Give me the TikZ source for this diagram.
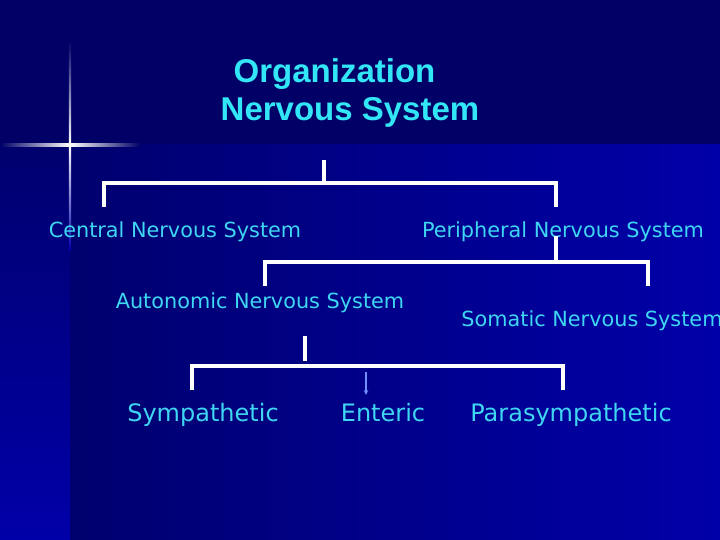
\documentclass[tikz,border=0pt]{standalone}
\usepackage{fontspec}
\setmainfont{DejaVu Sans}
\newfontfamily\titlefont{Liberation Sans}
\usetikzlibrary{arrows.meta, positioning, calc}
\definecolor{cnavy}{HTML}{000066}
\definecolor{cdeep}{HTML}{00006E}
\definecolor{cbright}{HTML}{0000A8}
\definecolor{ccyan}{HTML}{3FD6F2}
\definecolor{ctitle}{HTML}{33E6F6}
\definecolor{cthin}{HTML}{7090FF}
\tikzset{
  every picture/.style={x=1pt, y=-1pt},
  label/.style={text=ccyan, inner sep=0pt, anchor=base, font=\fontsize{20.8}{24}\selectfont},
  leaf/.style={label, font=\fontsize{24}{28}\selectfont},
  title/.style={text=ctitle, inner sep=0pt, anchor=base, font=\titlefont\bfseries\fontsize{33}{38}\selectfont},
  bracket/.style={draw=white, line width=4pt},
  thinarrow/.style={draw=cthin, line width=1.3pt, -{Stealth[length=5pt, width=4.5pt]}},
}

\begin{document}
\begin{tikzpicture}
  \clip (0,0) rectangle (720,540);
  % background
  \fill[cnavy] (0,0) rectangle (720,540);
  \shade[left color=cdeep, right color=cbright] (70,145) rectangle (720,540);
  \shade[top color=cdeep, bottom color=cbright] (0,145) rectangle (70,540);
  \shade[left color=cnavy, right color=cnavy, middle color=white] (0,144) rectangle (140,146.5);
  \shade[top color=cnavy, bottom color=cbright, middle color=white] (68.8,40) rectangle (71.2,250);
  % title
  \node[title] (org) at (334.5,83) {Organization};
  \node[title] (nsys) at (350,121) {Nervous System};
  % level 1
  \node[label] (cns) at (175,237.5) {Central Nervous System};
  \node[label] (pns) at (563,237.5) {Peripheral Nervous System};
  % level 2
  \node[label] (ans) at (260,308) {Autonomic Nervous System};
  \node[label] (sns) at (592,326) {Somatic Nervous System};
  % level 3
  \node[leaf] (sym) at (203,421) {Sympathetic};
  \node[leaf] (ent) at (383,421) {Enteric};
  \node[leaf] (para) at (571,421) {Parasympathetic};
  % brackets
  \coordinate (top1) at (324,160);
  \coordinate (leg1a) at (104,207);
  \coordinate (leg1b) at (556,207);
  \draw[bracket] (top1) -- ++(0,23);
  \draw[bracket] (leg1a) -- ++(0,-24) -| (leg1b);
  \coordinate (top2) at (556,236);
  \coordinate (leg2a) at (265,286);
  \coordinate (leg2b) at (648,286);
  \draw[bracket] (top2) -- ++(0,26);
  \draw[bracket] (leg2a) -- ++(0,-24) -| (leg2b);
  \coordinate (top3) at (305,336);
  \coordinate (leg3a) at (192,390);
  \coordinate (leg3b) at (563,390);
  \draw[bracket] (top3) -- ++(0,25);
  \draw[bracket] (leg3a) -- ++(0,-24) -| (leg3b);
  \coordinate (enttop) at (366,372);
  \draw[thinarrow] (enttop) -- ++(0,23);
\end{tikzpicture}
\end{document}
